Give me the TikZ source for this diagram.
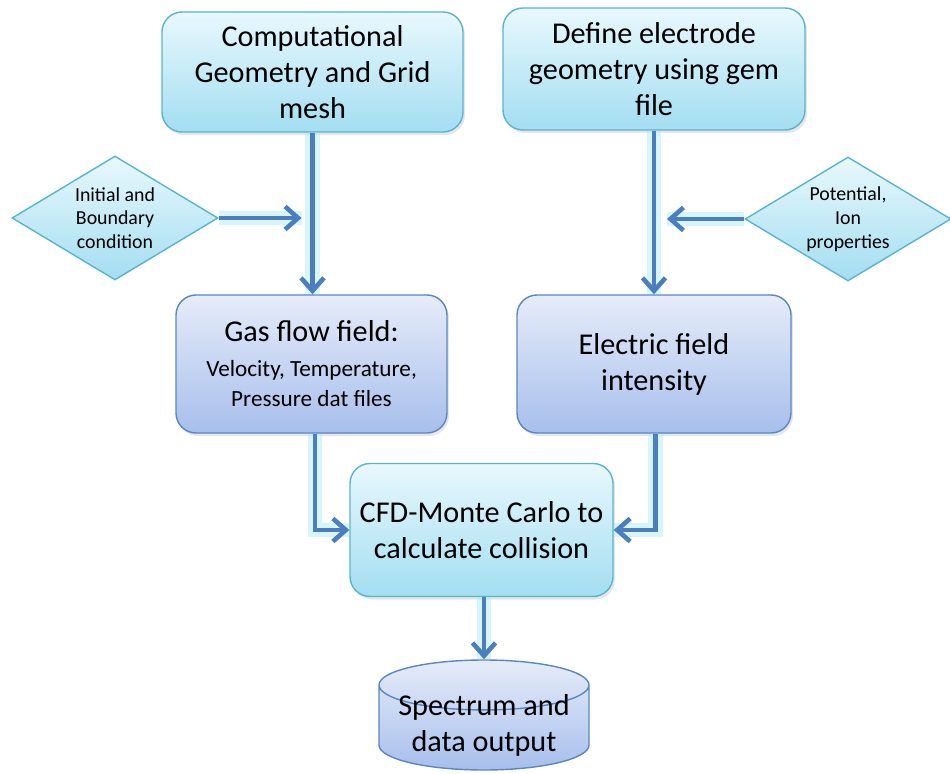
\documentclass[tikz,border=0pt]{standalone}
\usepackage{fontspec}
\setmainfont{Carlito}
\usetikzlibrary{shapes.geometric,arrows.meta,shadows}
\definecolor{arrowblue}{HTML}{4A7EBF}
\definecolor{glowcyan}{HTML}{B4ECFA}
\definecolor{cyantop}{HTML}{E8F8FD}
\definecolor{cyanbot}{HTML}{A3DEF1}
\definecolor{cyanline}{HTML}{5AB4D0}
\definecolor{bluetop}{HTML}{E6ECF9}
\definecolor{bluebot}{HTML}{A7BFEC}
\definecolor{blueline}{HTML}{5B86C4}
\begin{document}
\begin{tikzpicture}[
  font=\fontsize{17.2}{20.5}\selectfont,
  cb/.style={rectangle, draw=cyanline, line width=0.8pt, rounded corners=0.4cm, align=center,
    top color=cyantop, bottom color=cyanbot,
    drop shadow={opacity=0.2, shadow xshift=0.04cm, shadow yshift=-0.06cm}},
  bb/.style={rectangle, draw=blueline, line width=0.8pt, rounded corners=0.4cm, align=center,
    top color=bluetop, bottom color=bluebot,
    drop shadow={opacity=0.2, shadow xshift=0.04cm, shadow yshift=-0.06cm}},
  dm/.style={diamond, draw=cyanline, line width=0.8pt, align=center, inner sep=-0.15cm,
    aspect=1.65, minimum width=4.12cm, minimum height=2.48cm, top color=cyantop,
    bottom color=cyanbot, font=\fontsize{11.3}{13.5}\selectfont},
  db/.style={cylinder, shape border rotate=90, aspect=0.28, draw=blueline, line width=0.8pt,
    inner xsep=2pt, inner ysep=-0.32cm, minimum width=4.2cm, minimum height=2.2cm,
    top color=bluetop, bottom color=bluebot, anchor=shape center},
  a/.style={line width=2.8pt, arrowblue, -{Straight Barb[length=0.26cm, width=0.46cm, line width=2.6pt]},
    preaction={draw=glowcyan, line width=8pt, opacity=0.55, -}}
]
\useasboundingbox (0,0) rectangle (19,-15.48);
\node[cb, minimum width=6.02cm, minimum height=2.4cm] (cg) at (6.25,-1.44)
  {Computational\\Geometry and Grid\\mesh};
\node[cb, minimum width=6.04cm, minimum height=2.44cm] (eg) at (13.08,-1.38)
  {Define electrode\\geometry using gem\\file};
\node[dm] (ic) at (2.3,-4.36) {Initial and\\Boundary\\condition};
\node[dm] (ip) at (16.96,-4.38) {Potential,\\Ion\\properties};
\node[bb, minimum width=5.42cm, minimum height=2.76cm] (gf) at (6.23,-7.28)
  {Gas flow field:\\[-1pt]{\fontsize{13.2}{16.5}\selectfont Velocity, Temperature,}\\[-3pt]
   {\fontsize{13.2}{16.5}\selectfont Pressure dat files}};
\node[bb, minimum width=5.48cm, minimum height=2.76cm] (ef) at (13.08,-7.28)
  {Electric field\\intensity};
\node[cb, minimum width=5.26cm, minimum height=2.66cm] (mc) at (9.63,-10.6)
  {CFD-Monte Carlo to\\calculate collision};
\node[db] (so) at (9.68,-14.3)
  {\raisebox{0.1cm}[\height][\depth]{\begin{tabular}{@{}c@{}}Spectrum and\\data output\end{tabular}}};
\draw[a] (cg.south) -- (cg.south |- gf.north);
\draw[a] (eg.south) -- (eg.south |- ef.north);
\draw[a, shorten >=0.22cm] (ic.east) -- (ic.east -| cg.south);
\draw[a, shorten >=0.26cm] (ip.west) -- (ip.west -| eg.south);
\draw[a] ([xshift=0.07cm]gf.south) |- (mc.west);
\draw[a] ([xshift=0.03cm]ef.south) |- (mc.east);
\draw[a] (mc.south -| so.north) -- (so.north);
\end{tikzpicture}
\end{document}
